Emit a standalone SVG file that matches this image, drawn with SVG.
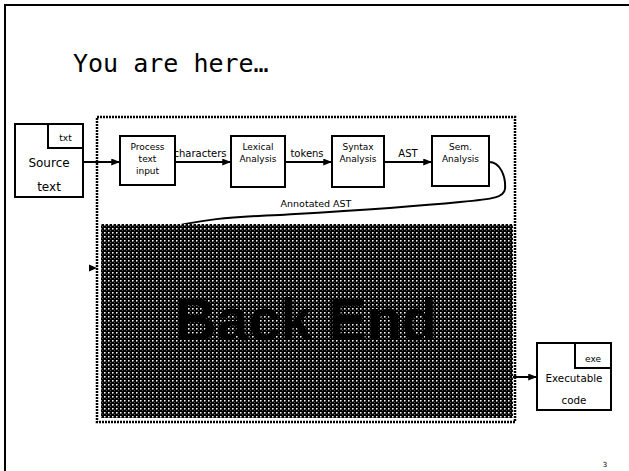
<svg xmlns="http://www.w3.org/2000/svg" width="629" height="471" viewBox="0 0 629 471">
  <style>
    .box { fill: #fff; stroke: #000; stroke-width: 2; }
    .lbl { font-family: "DejaVu Sans", Verdana, sans-serif; fill: #000; text-anchor: middle; }
    .small { font-size: 9px; }
    .edge { font-size: 10px; }
    .wire { fill: none; stroke: #000; stroke-width: 2; }
  </style>
  <defs>
    <marker id="arrow" viewBox="0 0 10 8" refX="10" refY="4" markerWidth="9" markerHeight="7" markerUnits="userSpaceOnUse" orient="auto">
      <path d="M0,0 L10,4 L0,8 Z" fill="#000"/>
    </marker>
    <!-- dotted screen used for the back-end region -->
    <pattern id="screen" width="4" height="4" patternUnits="userSpaceOnUse">
      <rect width="4" height="4" fill="#000"/>
      <rect x="0" y="0" width="1" height="1" fill="#f0f0f0"/>
      <rect x="1" y="0" width="1" height="1" fill="#909090"/>
      <rect x="0" y="1" width="1" height="1" fill="#909090"/>
      <rect x="1" y="1" width="1" height="1" fill="#404040"/>
      <rect x="2" y="2" width="1" height="1" fill="#555"/>
    </pattern>
  </defs>

  <rect width="629" height="471" fill="#fff"/>

  <!-- slide frame (top and left edges) -->
  <path d="M5,471 L5,5 L629,5" fill="none" stroke="#000" stroke-width="2"/>

  <text x="73" y="72" font-family="'DejaVu Sans Mono', 'Liberation Mono', monospace" font-size="25" fill="#000">You are here…</text>

  <!-- compiler boundary -->
  <rect id="compiler" x="97" y="117" width="418" height="305" fill="none" stroke="#000" stroke-width="2.5" stroke-dasharray="2 1"/>

  <!-- connectors -->
  <g id="connectors">
    <path class="wire" d="M489,162 C500,162 506,176 505,189 C504,197 495,199 460,202 C400,208 330,212 280,215 C230,217 200,219 160,230"/>
    <line class="wire" x1="83" y1="162" x2="120" y2="162" marker-end="url(#arrow)"/>
    <line class="wire" x1="175" y1="162" x2="231" y2="162" marker-end="url(#arrow)"/>
    <line class="wire" x1="285" y1="162" x2="332" y2="162" marker-end="url(#arrow)"/>
    <line class="wire" x1="384" y1="162" x2="432" y2="162" marker-end="url(#arrow)"/>
    <line class="wire" x1="511" y1="377" x2="537" y2="377" marker-end="url(#arrow)"/>
    <path d="M89,264.5 L97,268 L89,271.5 Z" fill="#000"/>
    <text class="lbl edge" x="200" y="157">characters</text>
    <text class="lbl edge" x="307" y="157">tokens</text>
    <text class="lbl edge" x="408" y="157">AST</text>
    <text class="lbl" font-size="9.5" x="316" y="207">Annotated AST</text>
  </g>

  <!-- back end -->
  <g id="backend">
    <rect x="101" y="224" width="412" height="194" fill="url(#screen)"/>
    <text x="306" y="340" font-family="'Liberation Sans', Arial, sans-serif" font-weight="bold" font-size="60" text-anchor="middle" textLength="262" lengthAdjust="spacingAndGlyphs" fill="#000">Back End</text>
  </g>

  <!-- source file -->
  <g id="source">
    <rect class="box" x="15" y="124" width="68" height="73"/>
    <rect class="box" x="48" y="124" width="35" height="24"/>
    <text class="lbl small" x="65.5" y="141">txt</text>
    <text class="lbl" font-size="12" x="49" y="167">Source</text>
    <text class="lbl" font-size="12" x="49" y="191">text</text>
  </g>

  <g id="process">
    <rect class="box" x="120" y="136" width="55" height="49"/>
    <text class="lbl small" x="147.5" y="150">Process</text>
    <text class="lbl small" x="147.5" y="162">text</text>
    <text class="lbl small" x="147.5" y="174">input</text>
  </g>

  <g id="lexical">
    <rect class="box" x="231" y="136" width="54" height="51"/>
    <text class="lbl small" x="258" y="150">Lexical</text>
    <text class="lbl small" x="258" y="162">Analysis</text>
  </g>

  <g id="syntax">
    <rect class="box" x="332" y="136" width="52" height="51"/>
    <text class="lbl small" x="358" y="150">Syntax</text>
    <text class="lbl small" x="358" y="162">Analysis</text>
  </g>

  <g id="semantic">
    <rect class="box" x="432" y="136" width="57" height="50"/>
    <text class="lbl small" x="460.5" y="150">Sem.</text>
    <text class="lbl small" x="460.5" y="162">Analysis</text>
  </g>

  <!-- output file -->
  <g id="executable">
    <rect class="box" x="537" y="343" width="74" height="67"/>
    <rect class="box" x="575" y="343" width="36" height="25"/>
    <text class="lbl small" x="593" y="362">exe</text>
    <text class="lbl" font-size="10.3" x="574" y="382">Executable</text>
    <text class="lbl" font-size="10.3" x="574" y="404">code</text>
  </g>

  <text x="605" y="467" font-family="'DejaVu Sans', sans-serif" font-size="7" text-anchor="middle" fill="#000">3</text>
</svg>
